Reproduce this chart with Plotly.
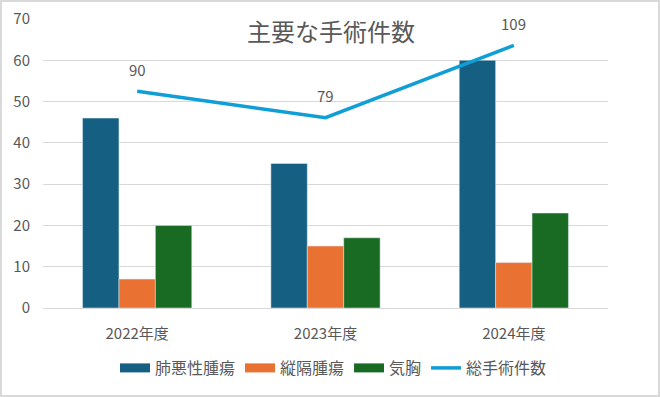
import plotly.graph_objects as go

categories = ["2022年度", "2023年度", "2024年度"]
lung = [46, 35, 60]
mediastinal = [7, 15, 11]
pneumothorax = [20, 17, 23]
total = [90, 79, 109]
series_names = ["肺悪性腫瘍", "縦隔腫瘍", "気胸", "総手術件数"]
bar_colors = ["#156082", "#E97132", "#196B24"]
line_color = "#0F9ED5"
y_ticks = [0, 10, 20, 30, 40, 50, 60, 70]
title_text = "主要な手術件数"

FONT = "Noto Sans CJK JP"
GRAY = "#595959"
W, H = 660, 397
ML, MR, MT, MB = 43, 52, 19, 89
pw = W - ML - MR
ph = H - MT - MB

fig = go.Figure()
for name, vals, col in zip(series_names[:3], [lung, mediastinal, pneumothorax], bar_colors):
    fig.add_trace(go.Bar(x=categories, y=vals, name=name, marker_color=col,
                         legendgroup=name, showlegend=False))
# legend entries drawn as wide swatches (Excel style)
for name, col in zip(series_names[:3], bar_colors):
    fig.add_trace(go.Scatter(x=[None], y=[None], name=name, mode="lines",
                             line=dict(color=col, width=9), legendgroup=name, hoverinfo="skip"))
fig.add_trace(go.Scatter(x=categories, y=total, name=series_names[3], mode="lines",
                         line=dict(color=line_color, width=3.5), yaxis="y2",
                         legendgroup=series_names[3]))

for c, v in zip(categories, total):
    fig.add_annotation(x=c, y=v, yref="y2", text=str(v), showarrow=False,
                       yshift=22, font=dict(family=FONT, size=15, color=GRAY))

fig.add_shape(type="rect", xref="paper", yref="paper",
              x0=(1 - ML) / pw, x1=(W - 1 - ML) / pw,
              y0=-(H - 1 - MT - ph) / ph, y1=1 + (MT - 1) / ph,
              line=dict(color="#d9d9d9", width=2), fillcolor="rgba(0,0,0,0)", layer="below")

fig.update_layout(
    width=W, height=H,
    margin=dict(l=ML, r=MR, t=MT, b=MB, autoexpand=False),
    paper_bgcolor="white", plot_bgcolor="white",
    barmode="group", bargap=0.42, bargroupgap=0,
    title=dict(text=title_text, x=331 / W, xanchor="center", y=1 - 33 / H, yanchor="middle",
               font=dict(family=FONT, size=24, color=GRAY), automargin=False),
    font=dict(family=FONT, color=GRAY),
    xaxis=dict(showgrid=False, showline=True, linecolor="#d9d9d9", linewidth=1, automargin=False,
               tickfont=dict(family=FONT, size=15, color=GRAY), ticks="", ticklabelstandoff=12),
    yaxis=dict(range=[0, 70], tickvals=y_ticks, showgrid=True, gridcolor="#d9d9d9", gridwidth=1,
               zeroline=False, showline=False, tickfont=dict(family=FONT, size=15, color=GRAY),
               ticks="", automargin=False, ticklabelstandoff=12),
    yaxis2=dict(range=[0, 120], overlaying="y", side="right", visible=False),
    legend=dict(orientation="h", x=(333.5 - ML) / pw, xanchor="center",
                y=-(368 - (H - MB)) / ph, yanchor="middle",
                font=dict(family=FONT, size=16, color=GRAY),
                traceorder="grouped", tracegroupgap=12),
    showlegend=True,
)

fig.write_html("out.html", config={"displayModeBar": False},
               post_script="document.body.style.margin='0';")
